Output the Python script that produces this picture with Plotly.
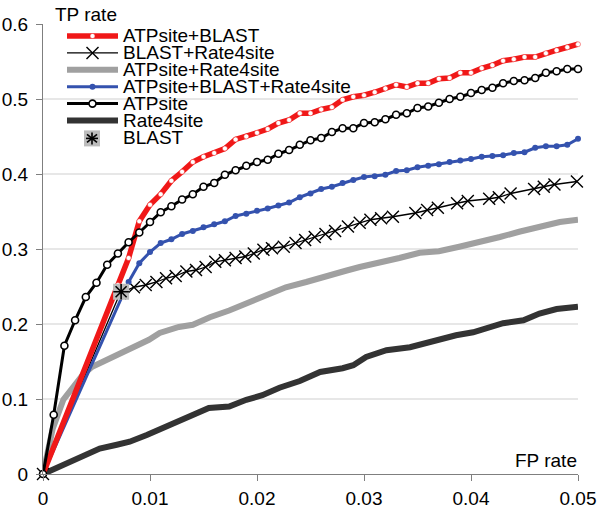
import plotly.graph_objects as go

# ---- data ----
FPR_GRID = [0.000, 0.001, 0.002, 0.003, 0.004, 0.005, 0.006, 0.007, 0.008, 0.009,
            0.010, 0.011, 0.012, 0.013, 0.014, 0.015, 0.016, 0.017, 0.018, 0.019,
            0.020, 0.021, 0.022, 0.023, 0.024, 0.025, 0.026, 0.027, 0.028, 0.029,
            0.030, 0.031, 0.032, 0.033, 0.034, 0.035, 0.036, 0.037, 0.038, 0.039,
            0.040, 0.041, 0.042, 0.043, 0.044, 0.045, 0.046, 0.047, 0.048, 0.049,
            0.050]

atp_blast_x = [0.0] + FPR_GRID[7:]
atp_blast_y = [0, 0.252, 0.288, 0.337, 0.359, 0.373, 0.391, 0.403, 0.416, 0.423,
               0.428, 0.434, 0.446, 0.450, 0.455, 0.460, 0.468, 0.472, 0.481, 0.481,
               0.486, 0.489, 0.499, 0.503, 0.505, 0.509, 0.514, 0.519, 0.516, 0.521,
               0.521, 0.527, 0.528, 0.535, 0.535, 0.541, 0.545, 0.551, 0.553, 0.556,
               0.556, 0.561, 0.565, 0.569, 0.573]

blast_r4s_x = [0, 0.0072, 0.0085, 0.0096, 0.0106, 0.0115, 0.0124, 0.0134, 0.0143, 0.0152,
               0.0161, 0.0170, 0.0180, 0.0189, 0.0197, 0.0206, 0.0214, 0.0225, 0.0236,
               0.0245, 0.0254, 0.0264, 0.0273, 0.0285, 0.0296, 0.0306, 0.0316, 0.0327,
               0.0348, 0.0359, 0.0369, 0.0387, 0.0397, 0.0417, 0.0426, 0.0437, 0.0459,
               0.0468, 0.0478, 0.0499]
blast_r4s_y = [0, 0.241, 0.249, 0.252, 0.256, 0.261, 0.264, 0.270, 0.272, 0.276,
               0.283, 0.285, 0.288, 0.290, 0.294, 0.299, 0.301, 0.303, 0.308,
               0.312, 0.316, 0.320, 0.324, 0.330, 0.335, 0.339, 0.341, 0.343,
               0.348, 0.352, 0.355, 0.361, 0.364, 0.367, 0.369, 0.374, 0.380,
               0.383, 0.386, 0.390]

atp_r4s_x = [0, 0.0009, 0.0019, 0.0028, 0.0037, 0.0046, 0.0059, 0.0073, 0.0087, 0.0099,
             0.0109, 0.0127, 0.0140, 0.0156, 0.0174, 0.0190, 0.0208, 0.0227, 0.0246,
             0.0264, 0.0283, 0.0296, 0.0314, 0.0333, 0.0352, 0.0370, 0.0389, 0.0408,
             0.0427, 0.0445, 0.0464, 0.0483, 0.0500]
atp_r4s_y = [0, 0.060, 0.099, 0.116, 0.132, 0.143, 0.152, 0.161, 0.170, 0.179,
             0.188, 0.196, 0.199, 0.209, 0.218, 0.227, 0.238, 0.249, 0.256,
             0.264, 0.271, 0.276, 0.281, 0.288, 0.295, 0.297, 0.303, 0.309,
             0.316, 0.323, 0.329, 0.336, 0.339]

all_three_x = [0.0] + FPR_GRID[8:]
all_three_y = [0, 0.256, 0.281, 0.296, 0.308, 0.313, 0.320, 0.324, 0.329, 0.333,
               0.337, 0.344, 0.347, 0.351, 0.354, 0.358, 0.362, 0.369, 0.374, 0.380,
               0.383, 0.388, 0.392, 0.396, 0.397, 0.399, 0.404, 0.405, 0.409, 0.411,
               0.413, 0.416, 0.418, 0.420, 0.423, 0.424, 0.425, 0.428, 0.429, 0.435,
               0.437, 0.437, 0.439, 0.447]

atpsite_x = FPR_GRID
atpsite_y = [0, 0.079, 0.171, 0.205, 0.236, 0.255, 0.279, 0.294, 0.309, 0.322,
             0.336, 0.349, 0.357, 0.366, 0.373, 0.383, 0.388, 0.399, 0.405, 0.411,
             0.416, 0.419, 0.427, 0.432, 0.439, 0.445, 0.448, 0.456, 0.461, 0.461,
             0.468, 0.469, 0.473, 0.479, 0.481, 0.488, 0.490, 0.495, 0.500, 0.503,
             0.508, 0.512, 0.515, 0.521, 0.524, 0.525, 0.528, 0.535, 0.537, 0.540,
             0.540]

rate4site_x = [0, 0.0013, 0.0025, 0.0037, 0.0053, 0.0069, 0.0081, 0.0097, 0.0112, 0.0127,
               0.0143, 0.0155, 0.0174, 0.0190, 0.0205, 0.0221, 0.0240, 0.0259, 0.0280,
               0.0290, 0.0302, 0.0321, 0.0343, 0.0358, 0.0370, 0.0386, 0.0402, 0.0417,
               0.0430, 0.0449, 0.0464, 0.0480, 0.0500]
rate4site_y = [0, 0.008, 0.016, 0.023, 0.034, 0.039, 0.043, 0.052, 0.061, 0.070,
               0.079, 0.088, 0.090, 0.099, 0.105, 0.115, 0.124, 0.136, 0.141,
               0.145, 0.156, 0.165, 0.169, 0.175, 0.179, 0.185, 0.189, 0.195,
               0.201, 0.205, 0.214, 0.220, 0.223]

blast_x = [0.0073]
blast_y = [0.243]

X_TICKS = [0, 0.01, 0.02, 0.03, 0.04, 0.05]
Y_TICKS = [0, 0.1, 0.2, 0.3, 0.4, 0.5, 0.6]
LEGEND = ['ATPsite+BLAST', 'BLAST+Rate4site', 'ATPsite+Rate4site',
          'ATPsite+BLAST+Rate4site', 'ATPsite', 'Rate4site', 'BLAST']

# ---- styling ----
FONT = 'Arial, Liberation Sans, sans-serif'
FS = 19
RED, BLUE, GRAY, DARK = '#f01818', '#3452ae', '#a0a0a0', '#333333'
W, H = 600, 517
L, R, T, B = 43, 22, 24, 43
PW, PH = W - L - R, H - T - B


def px(x):
    return (x - L) / PW


def py(y):
    return (H - B - y) / PH


fig = go.Figure()
common = dict(hoverinfo='skip', showlegend=False, cliponaxis=False)

fig.add_trace(go.Scatter(x=atp_r4s_x, y=atp_r4s_y, mode='lines',
                         line=dict(color=GRAY, width=6), **common))
fig.add_trace(go.Scatter(x=rate4site_x, y=rate4site_y, mode='lines',
                         line=dict(color=DARK, width=6), **common))
fig.add_trace(go.Scatter(x=blast_r4s_x, y=blast_r4s_y, mode='lines+markers',
                         line=dict(color='black', width=1.3),
                         marker=dict(symbol='x-thin-open', size=12, color='black',
                                     line=dict(color='black', width=1.4)), **common))
fig.add_trace(go.Scatter(x=all_three_x, y=all_three_y, mode='lines+markers',
                         line=dict(color=BLUE, width=3),
                         marker=dict(size=6, color=BLUE), **common))
fig.add_trace(go.Scatter(x=atp_blast_x, y=atp_blast_y, mode='lines+markers',
                         line=dict(color=RED, width=5.5),
                         marker=dict(size=5, color='white', line=dict(color=RED, width=0.5)),
                         **common))
fig.add_trace(go.Scatter(x=atpsite_x, y=atpsite_y, mode='lines+markers',
                         line=dict(color='black', width=3),
                         marker=dict(size=7, color='white', line=dict(color='black', width=1.6)),
                         **common))
fig.add_trace(go.Scatter(x=blast_x, y=blast_y, mode='markers',
                         marker=dict(symbol='square', size=16, color='#bcbcbc', opacity=1,
                                     line=dict(width=0)), **common))
fig.add_trace(go.Scatter(x=blast_x, y=blast_y, mode='markers',
                         marker=dict(symbol='asterisk-open', size=13, color='black',
                                     line=dict(color='black', width=1.6)), **common))

# horizontal gridlines (none on the top tick)
shapes = [dict(type='line', xref='paper', yref='y', x0=0, x1=1, y0=v, y1=v,
               line=dict(color='#cfcfcf', width=1), layer='below')
          for v in Y_TICKS[1:-1]]

# hand-made legend in the top left corner
annotations = []
lx0, lx1, ltext = 67, 118, 121
lxc = (lx0 + lx1) / 2
styles = [
    dict(color=RED, width=5.5, mark='dot_white'),
    dict(color='black', width=1.3, mark='x'),
    dict(color=GRAY, width=6, mark=None),
    dict(color=BLUE, width=3, mark='dot_blue'),
    dict(color='black', width=3, mark='circle'),
    dict(color=DARK, width=6, mark=None),
    dict(color=None, width=0, mark='blast'),
]


def pix_shape(kind, xc, yc, x0, x1, y0, y1, **kw):
    return dict(type=kind, xref='paper', yref='paper', xsizemode='pixel', ysizemode='pixel',
                xanchor=px(xc), yanchor=py(yc), x0=x0, x1=x1, y0=y0, y1=y1, **kw)


for i, (name, st) in enumerate(zip(LEGEND, styles)):
    yc = 36 + 16.9 * i
    if st['color']:
        shapes.append(dict(type='line', xref='paper', yref='paper', x0=px(lx0), x1=px(lx1),
                           y0=py(yc), y1=py(yc), line=dict(color=st['color'], width=st['width'])))
    m = st['mark']
    if m == 'dot_white':
        shapes.append(pix_shape('circle', lxc, yc, -2.5, 2.5, -2.5, 2.5,
                                fillcolor='white', line=dict(color=RED, width=0.5)))
    elif m == 'dot_blue':
        shapes.append(pix_shape('circle', lxc, yc, -3, 3, -3, 3,
                                fillcolor=BLUE, line=dict(color=BLUE, width=0)))
    elif m == 'circle':
        shapes.append(pix_shape('circle', lxc, yc, -3.5, 3.5, -3.5, 3.5,
                                fillcolor='white', line=dict(color='black', width=1.6)))
    elif m == 'x':
        for s in (1, -1):
            shapes.append(pix_shape('line', lxc, yc, -6, 6, -6 * s, 6 * s,
                                    line=dict(color='black', width=1.4)))
    elif m == 'blast':
        bx = 92
        shapes.append(pix_shape('rect', bx, yc + 1, -8, 8, -8, 8,
                                fillcolor='#bcbcbc', line=dict(width=0)))
        for a, b in ((0, 6), (5, 4), (-5, 4), (6, 0)):
            shapes.append(pix_shape('line', bx, yc + 1, -a, a, -b, b,
                                    line=dict(color='black', width=1.6)))
    annotations.append(dict(x=px(ltext), y=py(yc), xref='paper', yref='paper', text=name,
                            showarrow=False, xanchor='left', yanchor='middle',
                            font=dict(size=FS, color='black', family=FONT)))

# axis names sit inside the corners of the plot area
annotations.append(dict(x=0, y=py(15), xref='x', yref='paper', text='TP rate',
                        showarrow=False, xanchor='left', yanchor='middle', xshift=10,
                        font=dict(size=FS, color='black', family=FONT)))
annotations.append(dict(x=px(579), y=py(460), xref='paper', yref='paper', text='FP rate',
                        showarrow=False, xanchor='right', yanchor='middle',
                        font=dict(size=FS, color='black', family=FONT)))

axis_common = dict(showgrid=False, zeroline=False, showline=True, linecolor='#7f7f7f',
                   linewidth=1, ticks='outside', ticklen=6, tickcolor='#7f7f7f',
                   automargin=False,
                   tickfont=dict(size=FS, color='black', family=FONT))

fig.update_layout(
    width=W, height=H, margin=dict(l=L, r=R, t=T, b=B, pad=0, autoexpand=False),
    plot_bgcolor='white', paper_bgcolor='white',
    xaxis=dict(range=[0, 0.05], tickvals=X_TICKS, ticktext=[f'{v:g}' for v in X_TICKS],
               ticklabelstandoff=1, **axis_common),
    yaxis=dict(range=[0, 0.6], tickvals=Y_TICKS, ticktext=[f'{v:g}' for v in Y_TICKS],
               ticklabelstandoff=4, **axis_common),
    shapes=shapes, annotations=annotations,
)

# the page has an 8px body margin by default; drop it so the figure fills the window
fig.write_html('out.html', config={'displayModeBar': False},
               post_script="document.body.style.margin='0px';")
